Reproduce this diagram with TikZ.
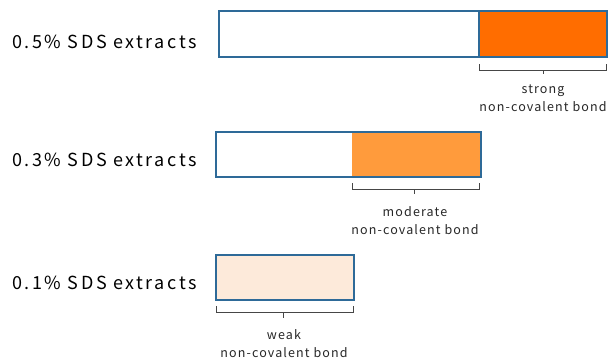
\documentclass[tikz,border=0pt]{standalone}
\usepackage{fontspec}
\setmainfont{Noto Sans CJK JP}
\newfontfamily\rowfont[LetterSpace=14]{Noto Sans CJK JP}
\newfontfamily\notefont[LetterSpace=9]{Noto Sans CJK JP}
\definecolor{barline}{RGB}{46,106,152}
\definecolor{strongfill}{RGB}{255,109,0}
\definecolor{modfill}{RGB}{255,155,60}
\definecolor{weakfill}{RGB}{253,234,218}
\definecolor{brk}{RGB}{70,70,70}
\tikzset{
  bar/.style={draw=barline, line width=1.4pt},
  brace/.style={draw=brk, line width=0.7pt},
  rowlabel/.style={anchor=west, inner sep=0pt, font=\rowfont\fontsize{18}{21}\selectfont},
  note/.style={align=center, inner sep=0pt, text=black!85, font=\notefont\fontsize{12.5}{18}\selectfont},
}
\begin{document}
\begin{tikzpicture}[x=1pt, y=-1pt]
\useasboundingbox (0,0) rectangle (608,360);

% row 1: 0.5% SDS
\node[rowlabel] (l1) at (12,42) {0.5\% SDS extracts};
\fill[strongfill] (479,11) rectangle (607,57);
\draw[bar] (219,11) rectangle (607,57);
\draw[bar] (219,11) rectangle (479,57);
\coordinate (b1l) at (479,70);
\coordinate (b1r) at (606,70);
\draw[brace] ([yshift=6pt]b1l) -- (b1l) -- (b1r) -- ([yshift=6pt]b1r);
\coordinate (b1c) at (543,70);
\draw[brace] (b1c) -- ++(0,4);
\node[note] (n1) at (543,98) {strong\\non-covalent bond};

% row 2: 0.3% SDS
\node[rowlabel] (l2) at (12,160) {0.3\% SDS extracts};
\fill[modfill] (352,132) rectangle (481,177);
\draw[bar] (216,132) rectangle (481,177);
\coordinate (b2l) at (352,189);
\coordinate (b2r) at (479,189);
\draw[brace] ([yshift=6pt]b2l) -- (b2l) -- (b2r) -- ([yshift=6pt]b2r);
\coordinate (b2c) at (414,189);
\draw[brace] (b2c) -- ++(0,5);
\node[note] (n2) at (415,221) {moderate\\non-covalent bond};

% row 3: 0.1% SDS
\node[rowlabel] (l3) at (12,283) {0.1\% SDS extracts};
\draw[bar, fill=weakfill] (216,255) rectangle (354,300);
\coordinate (b3l) at (216,312);
\coordinate (b3r) at (353,312);
\draw[brace] ([yshift=6pt]b3l) -- (b3l) -- (b3r) -- ([yshift=6pt]b3r);
\coordinate (b3c) at (283,312);
\draw[brace] (b3c) -- ++(0,6);
\node[note] (n3) at (284,344) {weak\\non-covalent bond};
\end{tikzpicture}
\end{document}
